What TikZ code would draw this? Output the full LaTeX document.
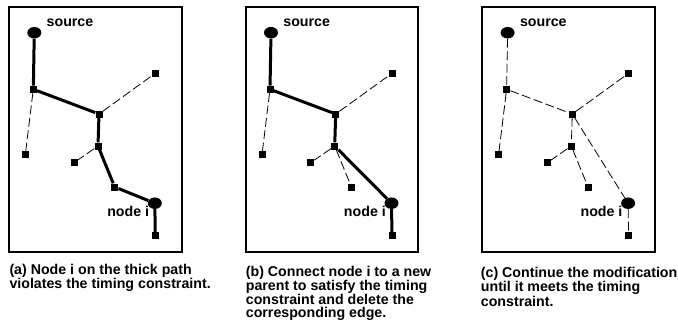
\documentclass[tikz,border=0pt]{standalone}
\usepackage{fontspec}
\setmainfont{Liberation Sans}
\usetikzlibrary{shapes.geometric}

\tikzset{
  leaf/.style={fill, rectangle, inner sep=0pt, minimum size=7pt},
  endpt/.style={fill, ellipse, inner sep=0pt, minimum width=14pt, minimum height=11.5pt},
  treepath/.style={line width=3pt},
  treeedge/.style={line width=0.8pt, dash pattern=on 9pt off 3.5pt},
  panel/.style={line width=2pt},
  lbl/.style={inner sep=0pt, font=\bfseries\fontsize{14.2}{13}\selectfont}
}

% nodes of one tree: #1 = name prefix, #2 = x offset
\newcommand{\placetree}[2]{%
  \begin{scope}[xshift=#2]
    \node[endpt] (#1src) at (34.3,32.7) {};
    \node[leaf] (#1n1) at (33.3,89.3) {};
    \node[leaf] (#1n2) at (155.3,73.3) {};
    \node[leaf] (#1n3) at (99,114) {};
    \node[leaf] (#1n4) at (25.3,154.7) {};
    \node[leaf] (#1n5) at (98,146) {};
    \node[leaf] (#1n6) at (74,162.7) {};
    \node[leaf] (#1n7) at (114.7,187) {};
    \node[endpt] (#1ni) at (154.8,203.2) {};
    \node[leaf] (#1n8) at (155.3,235.7) {};
    \node[lbl, anchor=base west] (#1srclbl) at (46.5,26.7) {source};
    \node[lbl, anchor=base east] (#1nilbl) at (149.3,216) {node i};
  \end{scope}}

\begin{document}
\begin{tikzpicture}[x=1pt, y=-1pt]
\useasboundingbox (0,0) rectangle (678,322);

\foreach \dx in {0,236.7,473.3}
  \draw[panel] (9+\dx,7) rectangle (181.7+\dx,252.3);

\placetree{a}{0}
\placetree{b}{236.7}
\placetree{c}{473.3}

% (a)
\foreach \u/\v in {src/n1, n1/n3, n3/n5, n5/n7, n7/ni, ni/n8}
  \draw[treepath] (a\u) -- (a\v);
\foreach \u/\v in {n1/n4, n3/n2, n5/n6}
  \draw[treeedge] (a\u) -- (a\v);

% (b)
\foreach \u/\v in {src/n1, n1/n3, n3/n5, n5/ni, ni/n8}
  \draw[treepath] (b\u) -- (b\v);
\foreach \u/\v in {n1/n4, n3/n2, n5/n6, n5/n7}
  \draw[treeedge] (b\u) -- (b\v);

% (c)
\foreach \u/\v in {src/n1, n1/n3, n3/n2, n1/n4, n3/n5, n5/n6, n5/n7, n3/ni, ni/n8}
  \draw[treeedge] (c\u) -- (c\v);

\node[lbl, anchor=base west] (capa) at (9.3,274.3)
  {\parbox[t]{220pt}{(a) Node i on the thick path\\violates the timing constraint.}};
\node[lbl, anchor=base west] (capb) at (245.7,276)
  {\parbox[t]{220pt}{(b) Connect node i to a new\\parent to satisfy the timing\\constraint and delete the\\corresponding edge.}};
\node[lbl, anchor=base west] (capc) at (480.7,277.5)
  {\parbox[t]{220pt}{(c) Continue the modification\\until it meets the timing\\constraint.}};

\end{tikzpicture}
\end{document}
